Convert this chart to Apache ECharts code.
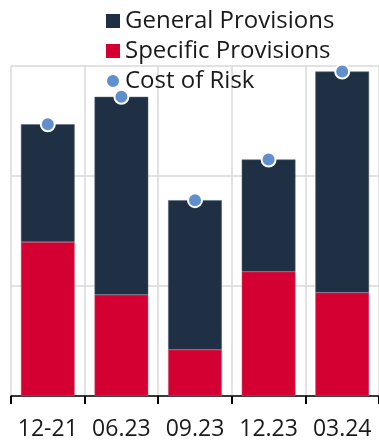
<!DOCTYPE html>
<html><head><meta charset="utf-8">
<script src="https://cdn.jsdelivr.net/npm/echarts@6/dist/echarts.min.js"></script>
<style>html,body{margin:0;padding:0;background:#fff}#c{width:379px;height:445px}</style>
</head><body><div id="c"></div>
<script>
var categories = ['12-21', '06.23', '09.23', '12.23', '03.24'];
var specificProvisions = [1.40, 0.92, 0.42, 1.13, 0.94];
var generalProvisions = [1.07, 1.80, 1.36, 1.02, 2.01];
var costOfRisk = [2.47, 2.72, 1.78, 2.15, 2.95];
var yTicks = [0, 1, 2, 3];

var chart = echarts.init(document.getElementById('c'));
chart.setOption({
  animation: false,
  textStyle: { fontFamily: 'Open Sans' },
  legend: {
    orient: 'vertical', left: 105, top: 9, itemGap: 6, padding: 0,
    itemWidth: 14, itemHeight: 14,
    textStyle: { fontSize: 24, lineHeight: 24, color: '#1a1a1a', fontFamily: 'Open Sans' },
    data: [
      { name: 'General Provisions', icon: 'rect', itemStyle: { borderWidth: 0 } },
      { name: 'Specific Provisions', icon: 'rect', itemStyle: { borderWidth: 0 } },
      { name: 'Cost of Risk', icon: 'circle', itemStyle: { borderColor: '#fff', borderWidth: 2 } }
    ]
  },
  grid: { left: 11, right: -2, top: 66, bottom: 49 },
  xAxis: {
    type: 'category', data: categories,
    axisLine: { lineStyle: { color: '#000', width: 1.5 } },
    axisTick: { show: true, interval: 0, length: 8, lineStyle: { color: '#000', width: 2 } },
    axisLabel: { interval: 0, fontSize: 23, color: '#1a1a1a', margin: 22, hideOverlap: false },
    splitLine: { show: true, interval: 0, lineStyle: { color: '#d9d9d9', width: 1.5 } }
  },
  yAxis: {
    type: 'value', min: yTicks[0], max: yTicks[yTicks.length - 1], interval: 1,
    axisLabel: { show: false }, axisLine: { show: false }, axisTick: { show: false },
    splitLine: { lineStyle: { color: '#d9d9d9', width: 1.5 } }
  },
  series: [
    { name: 'Specific Provisions', type: 'bar', stack: 'p', data: specificProvisions,
      barCategoryGap: '27%', itemStyle: { color: '#d40032', borderColor: '#c85070', borderWidth: 0.5 } },
    { name: 'General Provisions', type: 'bar', stack: 'p', data: generalProvisions,
      itemStyle: { color: '#1f3045', borderColor: '#56657a', borderWidth: 0.5 } },
    { name: 'Cost of Risk', type: 'scatter', data: costOfRisk, symbolSize: 14, z: 5,
      itemStyle: { color: '#5f8fcc', borderColor: '#fff', borderWidth: 2, opacity: 1 } }
  ]
});
</script></body></html>
